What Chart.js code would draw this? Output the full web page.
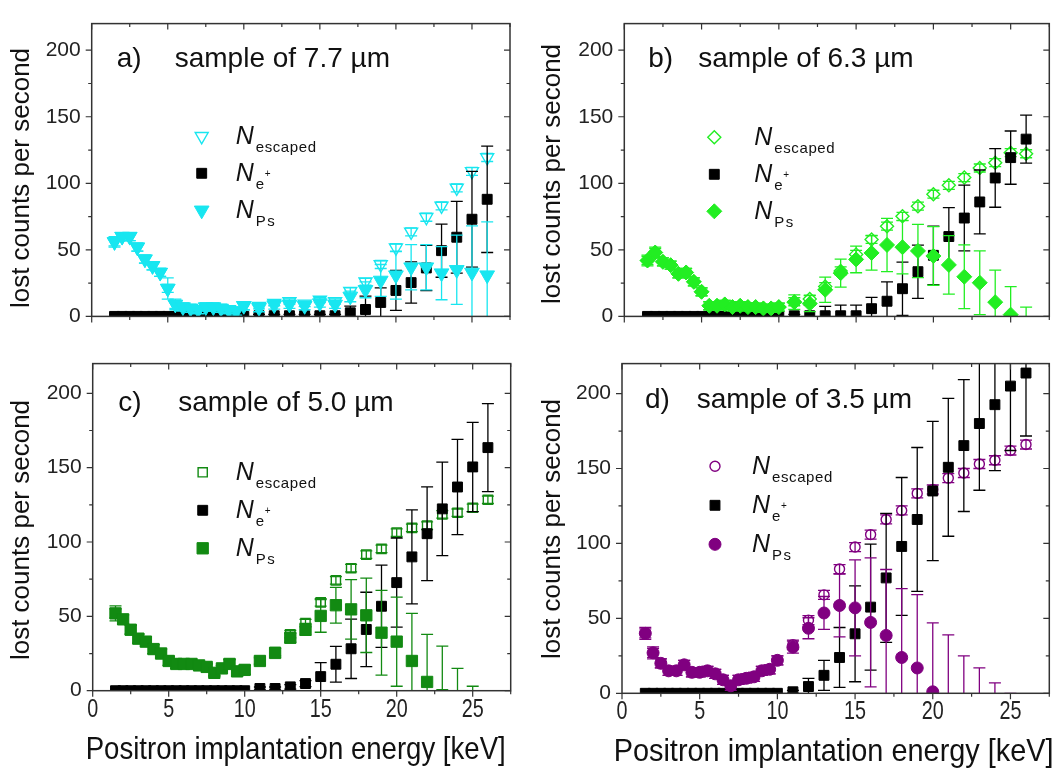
<!DOCTYPE html>
<html><head><meta charset="utf-8">
<script src="https://cdn.jsdelivr.net/npm/chart.js@4.4.0/dist/chart.umd.min.js"></script>
<style>
html,body{margin:0;padding:0;background:#fff;}
#wrap{position:relative;width:1062px;height:773px;overflow:hidden;background:#fff;}
canvas{position:absolute;display:block;}
</style></head><body>
<div id="wrap">
<canvas id="pa" width="531" height="340" style="left:0;top:0;width:531px;height:340px"></canvas>
<canvas id="pb" width="531" height="340" style="left:531px;top:0;width:531px;height:340px"></canvas>
<canvas id="pc" width="531" height="433" style="left:0;top:340px;width:531px;height:433px"></canvas>
<canvas id="pd" width="531" height="433" style="left:531px;top:340px;width:531px;height:433px"></canvas>
</div>
<script>
// ---------- data ----------
const energy = [1.5,2,2.5,3,3.5,4,4.5,5,5.5,6,6.5,7,7.5,8,8.5,9,9.5,10,
                11,12,13,14,15,16,17,18,19,20,21,22,23,24,25,26];
const xTickLabels = ['0','5','10','15','20','25'];
const yTickLabels = ['0','50','100','150','200'];

// a) 7.7 um
const aEscaped    = [56,60,60,52,43,38,33,21,9,7,6,5,7,7,6,5,4,8, 7.7,10,11.2,9.4,12.3,11.2,19,26,39,51.6,63.5,74.5,83,96.5,109,119.4];
const aEscapedErr = [3,3,3,3,3,3,3,3,3,3,3,3,3,3,3,3,3,3, 2,2,2,2,2,2,2.5,2.5,3,3,3,3,3,3,3,3];
const aNe         = [0,0,0,0,0,0,0,0,0,0,0,0,0,0,0,0,0,0, 0.5,0.5,0.5,0.5,0.5,0.5,2.7,5.2,10.5,19.5,25.4,36.4,49.4,59.5,73,88];
const aNeErr      = [0,0,0,0,0,0,0,0,0,0,0,0,0,0,0,0,0,0, 1,1,1,1,1,1,5,10,11,15,15.5,17,20,27,36,40];
const aPs         = [56,60,60,52,43,38,33,21,9,7,6,5,7,7,6,5,4,8, 6.5,8.5,9,8,10,9,15,20,27,31,37,37,32.5,35,33,31];
const aPsErr      = [4,3,3,3,3,3,3,8,4,3,3,3,3,3,3,3,3,3, 3,3,3,3,3,3,4,6,12,18,17,17,20,26,35,40];

// b) 6.3 um
const bEscaped    = [42,48,41,38.5,32,33,26,18.5,8,8,9,7,8,7,7,6,6,7, 11,13,22.4,34.2,46.6,57.8,67.8,75.2,82.8,91.8,98.5,104.3,111.5,115.5,123,122.2];
const bEscapedErr = [3,3,3,3,3,3,3,3,3,3,3,3,3,3,3,3,3,3, 3,3,3,3,3,3,3,3,3,3,3,3,3,3,3,3];
const bNe         = [0,0,0,0,0,0,0,0,0,0,0,0,0,0,0,0,0,0, 0.5,0.5,0.5,0.5,0.5,5.8,11.4,20.8,33.6,45.9,60,73.9,86,104,119.3,133.2];
const bNeErr      = [0,0,0,0,0,0,0,0,0,0,0,0,0,0,0,0,0,0, 1,8,7,8,8,8.5,14.5,20,20,22,21.7,24.7,24,22,20,18];
const bPs         = [42,48,41,38.5,32,33,26,18.5,8,8,9,7,8,7,7,6,6,7, 10.7,9.6,20,32.5,42.8,47.7,53.7,52,49.2,45.4,38.7,29.8,25.3,10.7,1.3,-10];
const bPsErr      = [4,4,3,3,3,3,3,3,3,3,3,3,3,3,3,3,3,3, 5.5,6,9.5,10.5,10,13,20,20,20,22,22,24,24,24,21,17];

// c) 5.0 um
const cEscaped    = [52,48,41,35,33,28,25,20,18,18,18,17,16,12,15,18,13,14, 20,26,38,45.5,59.4,74.2,82.4,91.5,95.4,106.3,109.5,111,118.6,119.7,123,128.4];
const cEscapedErr = [3,3,3,3,3,3,3,3,3,2,2,2,2,2,2,3,3,3, 2.5,2.5,2.5,2.5,2.5,2.5,2.5,2.5,2.5,2.5,2.5,2.5,2.5,2.5,2.5,2.5];
const cNe         = [0,0,0,0,0,0,0,0,0,0,0,0,0,0,0,0,0,0, 1.5,1.5,2.6,4.8,9.5,17.8,28.2,41.2,56.8,72.7,90,105.6,122.3,137,150.5,163.5];
const cNeErr      = [0,0,0,0,0,0,0,0,0,0,0,0,0,0,0,0,0,0, 1,1,1.5,2,9.4,12,20,25,27.6,30,31.6,31.5,31.5,32,30,29.6];
const cPs         = [52,48,41,35,33,28,25,20,18,18,18,17,16,12,15,18,13,14, 20,25.4,35.6,41.2,50.3,57.5,54.7,50.7,39,33,20,5.9,-3,-15,-27,-40];
const cPsErr      = [5,3,3,3,3,3,3,3,3,2,2,2,2,2,2,3,3,3, 2,3,3,4,11,12,20,25,28.5,30,32,32,33,30,30,30];

// d) 3.5 um
const dEscaped    = [40,27,20,15,15,19,14,14,15,13,9,5,9,10,11,15,16,22, 32.5,48.8,65.7,82.9,97.6,105.9,116,122,133.4,136,143.6,147,153,155.5,162,166];
const dEscapedErr = [3,3,3,3,3,3,3,3,3,3,3,3,3,3,3,3,3,3, 3,3,3,3,3,3,3,3,3,3,3,3,3,3,3,3];
const dNe         = [0,0,0,0,0,0,0,0,0,0,0,0,0,0,0,0,0,0, 1,4.5,12,23.9,39.7,57.5,77,98,116,135,150.8,165.3,180,192.6,205,213.7];
const dNeErr      = [0,0,0,0,0,0,0,0,0,0,0,0,0,0,0,0,0,0, 1,5.5,10,20,32,42,43,46,48,46.5,46,44,44.5,44,43,42];
const dPs         = [40,27,20,15,15,19,14,14,15,13,9,5,9,10,11,15,16,22, 30.8,43.4,53.6,58.6,57,47.3,38.6,23.9,16.9,1,-8,-20,-30,-40,-47,-60];
const dPsErr      = [4,4,3,3,3,3,3,3,3,3,3,3,3,3,3,3,3,3, 4,7,11,21,32,43,44,46,49,46,47,45,47,47,47,45];

// ---------- rendering ----------
const SANS = "'Liberation Sans',Arial,sans-serif";

function pts(ys){ return energy.map((e,i)=>({x:e,y:ys[i]})); }

// text drawn horizontally condensed (the original uses a narrow face)
function narrowText(ctx, txt, x, y, sx){
  ctx.save();
  ctx.translate(x, y);
  ctx.scale(sx, 1);
  ctx.fillText(txt, 0, 0);
  ctx.restore();
}

const errorBarPlugin = {
  id:'errorBars',
  beforeDatasetDraw(chart,args){
    const ds = chart.data.datasets[args.index];
    if(!ds.errors) return;
    const {ctx, chartArea:a, scales:{y}} = chart;
    ctx.save();
    ctx.beginPath(); ctx.rect(a.left,a.top,a.right-a.left,a.bottom-a.top); ctx.clip();
    ctx.strokeStyle = ds.borderColor; ctx.lineWidth = 1.3;
    args.meta.data.forEach((pt,i)=>{
      const e = ds.errors[i]; if(!e) return;
      const v = ds.data[i].y;
      const y1 = y.getPixelForValue(v-e), y2 = y.getPixelForValue(v+e), x = pt.x, c = 6;
      ctx.beginPath();
      ctx.moveTo(x,y1); ctx.lineTo(x,y2);
      ctx.moveTo(x-c,y1); ctx.lineTo(x+c,y1);
      ctx.moveTo(x-c,y2); ctx.lineTo(x+c,y2);
      ctx.stroke();
    });
    ctx.restore();
  }
};

const framePlugin = {
  id:'frame',
  afterDatasetsDraw(chart){
    const {ctx, chartArea:a, scales:{x,y}} = chart;
    ctx.save();
    ctx.strokeStyle = '#333';
    ctx.lineWidth = 1.5;
    ctx.strokeRect(a.left,a.top,a.right-a.left,a.bottom-a.top);
    ctx.lineWidth = 1.2;
    ctx.beginPath();
    for(let v=x.min; v<=x.max+1e-9; v+=2.5){
      const px = x.getPixelForValue(v), L = (v%5===0)?6:3.5;
      ctx.moveTo(px,a.bottom); ctx.lineTo(px,a.bottom+L);
      ctx.moveTo(px,a.top); ctx.lineTo(px,a.top+L);
    }
    for(let v=y.min; v<=y.max+1e-9; v+=25){
      const py = y.getPixelForValue(v), L = (v%50===0)?6:3.5;
      ctx.moveTo(a.left-L,py); ctx.lineTo(a.left,py);
      ctx.moveTo(a.right-L,py); ctx.lineTo(a.right,py);
    }
    ctx.stroke();
    ctx.restore();
  }
};

function drawMarker(ctx, ds, x, y){
  const o = {pointStyle: ds.pointStyle, rotation: ds.pointRotation||0, radius: ds.pointRadius, borderWidth: ds.pointBorderWidth};
  ctx.save();
  ctx.fillStyle = ds.pointBackgroundColor;
  ctx.strokeStyle = ds.pointBorderColor;
  ctx.lineWidth = ds.pointBorderWidth;
  Chart.helpers.drawPoint(ctx, o, x, y);
  ctx.restore();
}

const textPlugin = {
  id:'panelText',
  afterDraw(chart, args, opts){
    const {ctx, chartArea:a, scales:{x}} = chart;
    ctx.save();
    // panel label
    ctx.fillStyle = '#111';
    ctx.font = '28px ' + SANS;
    ctx.textBaseline = 'alphabetic';
    ctx.textAlign = 'left';
    ctx.fillText(opts.tag, a.left + opts.tagX, a.top + opts.baseY);
    ctx.fillText(opts.title, a.left + opts.titleX, a.top + opts.baseY);
    // legend
    for(let r=0;r<3;r++){
      const ds = chart.data.datasets[r];
      const sy = a.top + opts.legY + r*opts.legDY;
      drawMarker(ctx, ds, a.left + opts.legX, sy);
      const nx = a.left + opts.legX + opts.legTextDX;
      ctx.fillStyle = '#111';
      ctx.font = 'italic 25px ' + SANS;
      ctx.fillText('N', nx, sy + 8);
      ctx.font = '15px ' + SANS;
      const sx = nx + 20;
      if(r===0){ ctx.letterSpacing='0.6px'; ctx.fillText('escaped', sx, sy + 16); ctx.letterSpacing='0px'; }
      if(r===1){ ctx.fillText('e', sx, sy + 16); ctx.font='10px '+SANS; ctx.fillText('+', sx+9, sy+4); }
      if(r===2){ ctx.letterSpacing='1.5px'; ctx.fillText('Ps', sx, sy + 16); ctx.letterSpacing='0px'; }
    }
    // y axis title
    ctx.fillStyle = '#111';
    ctx.font = '26px ' + SANS;
    ctx.textAlign = 'center';
    ctx.textBaseline = 'middle';
    ctx.save();
    ctx.translate(opts.yTitleX, opts.yTitleY);
    ctx.rotate(-Math.PI/2);
    ctx.fillText('lost counts per second', 0, 0);
    ctx.restore();
    // x tick labels (from the library's x scale ticks) and x title, condensed
    if(opts.xTitle){
      ctx.fillStyle = '#222';
      ctx.font = '26px ' + SANS;
      ctx.textAlign = 'center';
      ctx.textBaseline = 'middle';
      x.ticks.forEach(t=>{
        const lbl = xTickLabels[xTickLabels.indexOf(String(t.value))];
        if(lbl===undefined) return;
        narrowText(ctx, lbl, x.getPixelForValue(t.value), a.bottom + 19, 0.76);
      });
      ctx.fillStyle = '#111';
      ctx.font = '32px ' + SANS;
      ctx.textBaseline = 'alphabetic';
      const w = ctx.measureText(opts.xTitle).width;
      narrowText(ctx, opts.xTitle, (a.left+a.right)/2 + opts.xTitleDX, opts.xTitleY, opts.xTitleW / w);
    }
    ctx.restore();
  }
};

function makePanel(id, cfg){
  const col = cfg.color;
  const datasets = [
    {label:'N escaped', data:pts(cfg.esc), errors:cfg.escErr, order:2,
     borderColor:col, pointBorderColor:col, pointBackgroundColor:'rgba(255,255,255,0)',
     pointStyle:cfg.style, pointRotation:cfg.rot||0, pointRadius:cfg.openR, pointBorderWidth:1.4, showLine:false, clip:0},
    {label:'N e+', data:pts(cfg.ne), errors:cfg.neErr, order:1,
     borderColor:'#000', pointBorderColor:'#000', pointBackgroundColor:'#000',
     pointStyle:'rect', pointRotation:0, pointRadius:7, pointBorderWidth:1, showLine:false, clip:0},
    {label:'N Ps', data:pts(cfg.ps), errors:cfg.psErr, order:0,
     borderColor:col, pointBorderColor:col, pointBackgroundColor:col,
     pointStyle:cfg.style, pointRotation:cfg.rot||0, pointRadius:cfg.fillR, pointBorderWidth:1, showLine:false, clip:0}
  ];
  datasets.forEach(d=>{ d.pointHoverRadius = d.pointRadius; });
  return new Chart(document.getElementById(id), {
    type:'scatter',
    data:{datasets},
    plugins:[errorBarPlugin, framePlugin, textPlugin],
    options:{
      responsive:false, animation:false, events:[],
      layout:{padding:cfg.pad},
      plugins:{legend:{display:false}, tooltip:{enabled:false}, panelText:cfg.text},
      scales:{
        x:{type:'linear', min:0, max:27.5,
           grid:{display:false, drawTicks:false}, border:{display:false},
           afterFit:(s)=>{ s.height = cfg.xH; },
           ticks:{display:false, stepSize:5, includeBounds:false}},
        y:{type:'linear', min:0, max:220,
           grid:{display:false, drawTicks:false}, border:{display:false},
           afterFit:(s)=>{ s.width = cfg.yW; },
           ticks:{stepSize:50, includeBounds:false, padding:11,
                  color:'#222', font:{family:SANS, size:21},
                  callback:(v)=>{ const i = yTickLabels.indexOf(String(v)); return i>=0 ? yTickLabels[i] : ''; }}}
      }
    }
  });
}

makePanel('pa', {color:'#18e6f0', style:'triangle', rot:180, openR:7.5, fillR:8.5,
  esc:aEscaped, escErr:aEscapedErr, ne:aNe, neErr:aNeErr, ps:aPs, psErr:aPsErr,
  pad:{left:0,right:21,top:4,bottom:0}, yW:91.7, xH:10,
  text:{tag:'a)', title:'sample of 7.7 µm', tagX:25, titleX:83, baseY:43,
        legX:110, legY:112.7, legDY:37, legTextDX:34, yTitleX:22, yTitleY:178}});

makePanel('pb', {color:'#22ee22', style:'rectRot', rot:0, openR:6.5, fillR:7.5,
  esc:bEscaped, escErr:bEscapedErr, ne:bNe, neErr:bNeErr, ps:bPs, psErr:bPsErr,
  pad:{left:0,right:12.7,top:3,bottom:0}, yW:93.3, xH:10.7,
  text:{tag:'b)', title:'sample of 6.3 µm', tagX:24, titleX:74, baseY:43.7,
        legX:90, legY:113.7, legDY:37, legTextDX:40, yTitleX:22, yTitleY:174}});

makePanel('pc', {color:'#128a12', style:'rect', rot:0, openR:6.5, fillR:8,
  esc:cEscaped, escErr:cEscapedErr, ne:cNe, neErr:cNeErr, ps:cPs, psErr:cPsErr,
  pad:{left:0,right:20.3,top:14,bottom:0}, yW:92.7, xH:82.3,
  text:{tag:'c)', title:'sample of 5.0 µm', tagX:25.6, titleX:85.6, baseY:47.7,
        legX:110, legY:108.7, legDY:38, legTextDX:33, yTitleX:22, yTitleY:190,
        xTitle:'Positron implantation energy [keV]', xTitleDX:-6, xTitleY:419, xTitleW:420}});

makePanel('pd', {color:'#800080', style:'circle', rot:0, openR:5, fillR:6,
  esc:dEscaped, escErr:dEscapedErr, ne:dNe, neErr:dNeErr, ps:dPs, psErr:dPsErr,
  pad:{left:0,right:12.7,top:15,bottom:0}, yW:91, xH:79.7,
  text:{tag:'d)', title:'sample of 3.5 µm', tagX:23, titleX:74.7, baseY:44.3,
        legX:93, legY:102.7, legDY:39, legTextDX:37, yTitleX:22, yTitleY:189,
        xTitle:'Positron implantation energy [keV]', xTitleDX:-2, xTitleY:421, xTitleW:440}});
</script>
</body></html>
